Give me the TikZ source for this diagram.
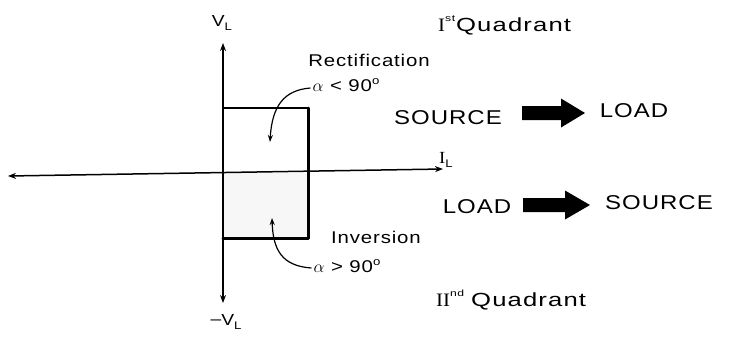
\documentclass[tikz,border=0pt]{standalone}
\usepackage{fontspec}
\setmainfont{Liberation Sans}
\newfontfamily\wide[FakeStretch=1.2,LetterSpace=5]{Liberation Sans}
\newfontfamily\wider[FakeStretch=1.35,LetterSpace=6]{Liberation Sans}
\newfontfamily\serifw[FakeStretch=1.1]{Liberation Serif}
\usetikzlibrary{arrows.meta}
\tikzset{
  txt/.style={inner sep=0pt, font=\wide\fontsize{#1}{#1}\selectfont},
  qtxt/.style={inner sep=0pt, anchor=base west, font=\wider\fontsize{19}{19}\selectfont},
  axis/.style={line width=1.5pt, {Stealth[length=8pt,width=6pt]}-{Stealth[length=8pt,width=6pt]}},
  boxline/.style={line width=#1, line cap=round, line join=round},
  curv/.style={line width=1.2pt, -{Stealth[length=7pt,width=5pt]}},
  bigarrow/.style={fill=black},
}
\begin{document}
\begin{tikzpicture}[x=1pt,y=-1pt]
\useasboundingbox (0,0) rectangle (730,338);
% box fill (lower half)
\fill[gray!6] (223,173) rectangle (308,238);
% coordinates
\coordinate (vt) at (223,43);
\coordinate (vb) at (223,303);
\coordinate (hl) at (8,176);
\coordinate (hr) at (443,169);
\coordinate (b1) at (223,108);
\coordinate (b2) at (308,108);
\coordinate (b3) at (308,238);
\coordinate (b4) at (223,238);
% axes
\draw[axis] (vb) -- (vt);
\draw[axis] (hl) -- (hr);
% box
\draw[boxline=2pt] (b1) -- (b2);
\draw[boxline=3pt] (b2) -- (b3) -- (b4);
% labels
\node[txt=16] (vl) at (222,23) {V\raisebox{-4pt}{\fontsize{11}{11}\selectfont L}};
\node[txt=16] (mvl) at (226,322) {\raisebox{1pt}{–}V\raisebox{-4pt}{\fontsize{11}{11}\selectfont L}};
\node[inner sep=0pt, font=\serifw\fontsize{17}{17}\selectfont] (il) at (446,160) {I\raisebox{-4pt}{\wide\fontsize{11}{11}\selectfont L}};
\node[txt=17] (rect) at (369,60) {Rectification};
\node[txt=17] (a1) at (346,85) {$\alpha$ < 90\raisebox{7pt}{\fontsize{11}{11}\selectfont o}};
\node[txt=17] (inv) at (376,237) {Inversion};
\node[txt=17] (a2) at (347,266) {$\alpha$ > 90\raisebox{7pt}{\fontsize{11}{11}\selectfont o}};
\node[qtxt] (q1) at (438,31) {{\serifw\fontsize{19}{19}\selectfont I}\raisebox{10pt}{\fontsize{9}{9}\selectfont st}\hspace{1pt}Quadrant};
\node[qtxt] (q2) at (436,306) {{\serifw\fontsize{19}{19}\selectfont II}\raisebox{10pt}{\fontsize{9}{9}\selectfont nd}\hspace{7pt}Quadrant};
% power flow rows
\node[txt=20] (s1) at (448,118) {SOURCE};
\coordinate (ar1) at (522,113);
\node[txt=20] (l1) at (634,111) {LOAD};
\node[txt=20] (l2) at (477,207) {LOAD};
\coordinate (ar2) at (523,205);
\node[txt=20] (s2) at (659,203) {SOURCE};
\fill[bigarrow] (ar1) -- ++(0,-7) -- ++(39,0) -- ++(0,-7.5) -- ++(24,14.5) -- ++(-24,14.5) -- ++(0,-7.5) -- ++(-39,0) -- cycle;
\fill[bigarrow] (ar2) -- ++(0,-7) -- ++(42,0) -- ++(0,-7.5) -- ++(25,14.5) -- ++(-25,14.5) -- ++(0,-7.5) -- ++(-42,0) -- cycle;
% curved pointers
\coordinate (p1) at (270,142);
\coordinate (p2) at (272,218);
\draw[curv] (a1.west) ++(-2,3) .. controls (284,90) and (272,106) .. (p1);
\draw[curv] (a2.west) ++(-2,2) .. controls (282,266) and (273,250) .. (p2);
\end{tikzpicture}
\end{document}
